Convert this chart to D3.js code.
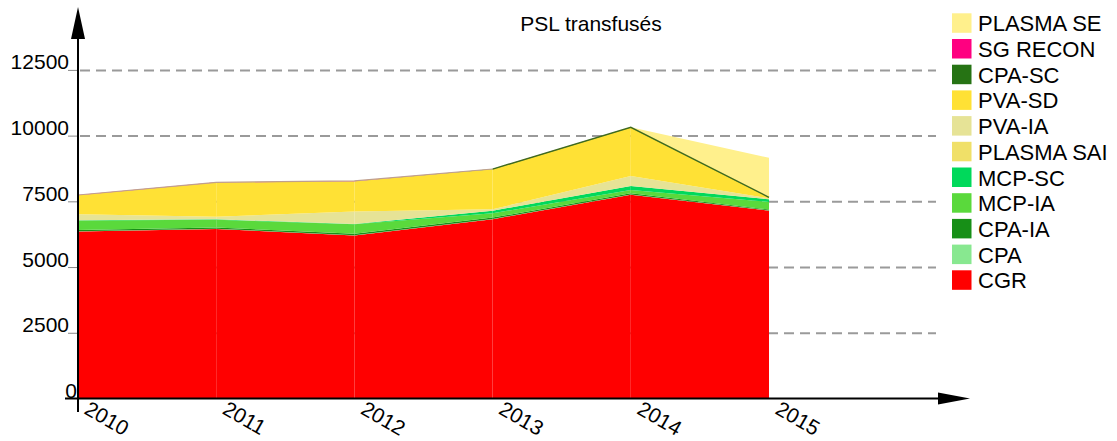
<!DOCTYPE html>
<html>
<head>
<meta charset="utf-8">
<script src="https://cdn.jsdelivr.net/npm/d3@7/dist/d3.min.js"></script>
<style>
  html, body { margin: 0; padding: 0; background: #fff; }
  svg { display: block; font-family: "Liberation Sans", Arial, sans-serif; }
</style>
</head>
<body>
<svg id="chart" width="1117" height="441"></svg>
<script>
// ---- data ----
const years = [2010, 2011, 2012, 2013, 2014, 2015];
const CGR        = [6370, 6470, 6220, 6840, 7770, 7165];
const CPA        = [10, 10, 10, 10, 10, 10];
const CPA_IA     = [50, 40, 60, 50, 45, 30];
const MCP_IA     = [360, 300, 360, 165, 126, 290];
const MCP_SC     = [10, 15, 10, 100, 152, 100];
const PLASMA_SAI = [0, 0, 0, 0, 0, 0];
const PVA_IA     = [228, 100, 470, 50, 380, 40];
const PVA_SD     = [725, 1301, 1156, 1520, 1843, 28];
const CPA_SC     = [0, 0, 0, 10, 10, 10];
const SG_RECON   = [8, 8, 8, 5, 0, 0];
const PLASMA_SE  = [0, 0, 0, 0, 0, 1505];
const yTicks = [0, 2500, 5000, 7500, 10000, 12500];
const title = "PSL transfusés";

// series, bottom to top
const seriesNames = ["CGR", "CPA", "CPA-IA", "MCP-IA", "MCP-SC", "PLASMA SAI", "PVA-IA", "PVA-SD", "CPA-SC", "SG RECON", "PLASMA SE"];
const seriesValues = [CGR, CPA, CPA_IA, MCP_IA, MCP_SC, PLASMA_SAI, PVA_IA, PVA_SD, CPA_SC, SG_RECON, PLASMA_SE];
const colors = {
  "CGR": "#FF0000", "CPA": "#88E890", "CPA-IA": "#178F17", "MCP-IA": "#5AD93C",
  "MCP-SC": "#00D95B", "PLASMA SAI": "#F0E068", "PVA-IA": "#E6E396", "PVA-SD": "#FFE135",
  "CPA-SC": "#267314", "SG RECON": "#FF0080", "PLASMA SE": "#FFF08C"
};
const lineColors = { "CPA-SC": "#3f6a1e", "SG RECON": "#bfa08c" };

const table = years.map((yr, i) => {
  const row = { year: yr };
  seriesNames.forEach((n, k) => row[n] = seriesValues[k][i]);
  return row;
});

// ---- layout ----
const svg = d3.select("#chart");
const x = d3.scaleLinear().domain([2010, 2015]).range([78, 769]);
const y = d3.scaleLinear().domain([0, 12500]).range([399, 70.4]);

// gridlines
svg.append("g").selectAll("line").data(yTicks.filter(t => t > 0)).join("line")
  .attr("x1", 80).attr("x2", 936)
  .attr("y1", d => y(d)).attr("y2", d => y(d))
  .attr("stroke", "#9a9a9a").attr("stroke-width", 2)
  .attr("stroke-dasharray", "10,6");

// stacked areas
const stack = d3.stack().keys(seriesNames);
const layers = stack(table);
const area = d3.area()
  .x(d => x(d.data.year))
  .y0(d => y(d[0]))
  .y1(d => y(d[1]));

const gAreas = svg.append("g");
layers.forEach(layer => {
  for (let i = 0; i < layer.length - 1; i++) {
    const seg = [layer[i], layer[i + 1]];
    gAreas.append("path")
      .attr("d", area(seg))
      .attr("fill", colors[layer.key]);
  }
});

// top edge lines for thin layers
const topLine = d3.line()
  .defined(d => (d[1] - d[0]) > 0)
  .x(d => x(d.data.year))
  .y(d => y(d[1]));
layers.filter(l => lineColors[l.key]).forEach(layer => {
  svg.append("path")
    .attr("d", topLine(layer))
    .attr("fill", "none")
    .attr("stroke", lineColors[layer.key])
    .attr("stroke-width", layer.key === "CPA-SC" ? 1.4 : 1.2);
});

// y tick labels and small ticks
const gy = svg.append("g");
gy.selectAll("text").data(yTicks).join("text")
  .attr("x", d => d === 0 ? 77 : 69)
  .attr("y", d => y(d) - 1)
  .attr("text-anchor", "end")
  .attr("font-size", 21)
  .attr("fill", "#000")
  .text(d => d);
gy.selectAll("line").data(yTicks.filter(t => t > 0)).join("line")
  .attr("x1", 68).attr("x2", 78)
  .attr("y1", d => y(d)).attr("y2", d => y(d))
  .attr("stroke", "#888").attr("stroke-width", 1);

// axes
svg.append("line").attr("x1", 78).attr("x2", 78).attr("y1", 36).attr("y2", 412)
  .attr("stroke", "#000").attr("stroke-width", 2);
svg.append("path").attr("d", "M78,7 L71,39 L85,39 Z").attr("fill", "#000");
svg.append("line").attr("x1", 65).attr("x2", 942).attr("y1", 398.5).attr("y2", 398.5)
  .attr("stroke", "#000").attr("stroke-width", 2);
svg.append("path").attr("d", "M970,398.5 L938,392.5 L938,404.5 Z").attr("fill", "#000");

// x tick labels (rotated)
svg.append("g").selectAll("text").data(years).join("text")
  .attr("transform", d => `translate(${x(d) + 5},${413}) rotate(30)`)
  .attr("font-size", 21)
  .attr("fill", "#000")
  .text(d => d);

// title
svg.append("text")
  .attr("x", 591).attr("y", 31)
  .attr("text-anchor", "middle")
  .attr("font-size", 21)
  .attr("fill", "#000")
  .text(title);

// legend (reverse order)
const legendNames = seriesNames.slice().reverse();
const lg = svg.append("g");
const items = lg.selectAll("g").data(legendNames).join("g")
  .attr("transform", (d, i) => `translate(952,${13.3 + i * 25.7})`);
items.append("rect")
  .attr("width", 19.5).attr("height", 19.5)
  .attr("fill", d => colors[d]);
items.append("text")
  .attr("x", 26).attr("y", 18)
  .attr("font-size", 22)
  .attr("fill", "#000")
  .text(d => d);
</script>
</body>
</html>
